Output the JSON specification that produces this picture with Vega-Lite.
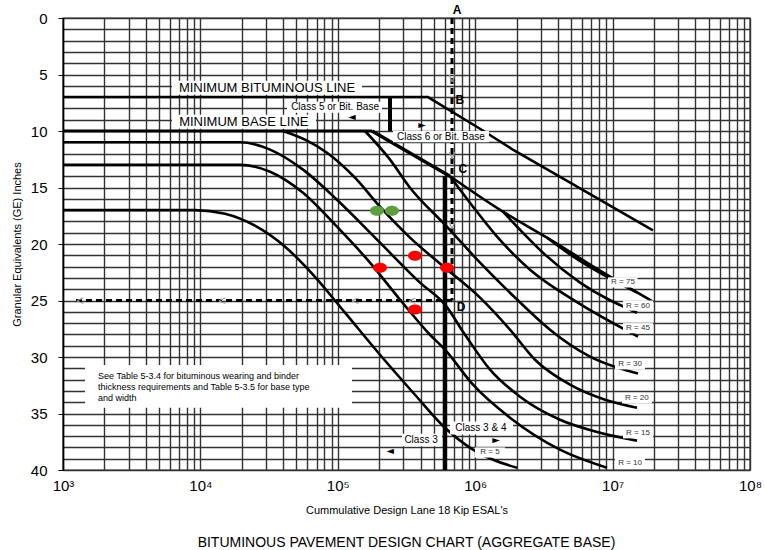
{
  "$schema": "https://vega.github.io/schema/vega-lite/v6.json",
  "width": 687,
  "height": 452,
  "autosize": "none",
  "padding": {"left": 63, "top": 18, "right": 15, "bottom": 80},
  "background": "white",
  "config": {"font": "Liberation Sans", "view": {"stroke": "#333", "strokeWidth": 1.4}},
  "title": {"text": "BITUMINOUS PAVEMENT DESIGN CHART (AGGREGATE BASE)", "orient": "bottom", "fontSize": 14, "fontWeight": "normal", "color": "#000", "offset": 21},
  "datasets": {
    "boxesUnder": [
      {"x": 6209, "x2": 150000, "y": 5.55, "y2": 6.79},
      {"x": 6209, "x2": 69300, "y": 8.56, "y2": 9.8},
      {"x": 1446, "x2": 126800, "y": 30.7, "y2": 34.5}
    ],
    "boxesOver": [
      {"x": 42670, "x2": 209800, "y": 7.41, "y2": 8.38},
      {"x": 252200, "x2": 1259000, "y": 10.0, "y2": 11.0},
      {"x": 655600, "x2": 1884000, "y": 35.7, "y2": 36.85},
      {"x": 293000, "x2": 573000, "y": 36.8, "y2": 37.9},
      {"x": 9250000, "x2": 15200000, "y": 22.95, "y2": 23.85},
      {"x": 11900000, "x2": 19700000, "y": 25.0, "y2": 25.9},
      {"x": 11900000, "x2": 19700000, "y": 27.0, "y2": 27.9},
      {"x": 10400000, "x2": 17200000, "y": 30.2, "y2": 31.1},
      {"x": 11700000, "x2": 19300000, "y": 33.2, "y2": 34.1},
      {"x": 11900000, "x2": 19700000, "y": 36.3, "y2": 37.2},
      {"x": 10400000, "x2": 17200000, "y": 38.9, "y2": 39.8},
      {"x": 997000, "x2": 1650000, "y": 38.0, "y2": 38.9}
    ],
    "straight": [
      {"s": "Minimum bituminous line", "x": 1000, "y": 7},
      {"s": "Minimum bituminous line", "x": 453200, "y": 7},
      {"s": "Minimum bituminous line", "x": 1084000, "y": 9.8},
      {"s": "Minimum bituminous line", "x": 1852000, "y": 11.6},
      {"s": "Minimum bituminous line", "x": 19680000, "y": 18.8},
      {"s": "Minimum base line", "x": 1000, "y": 10},
      {"s": "Minimum base line", "x": 177400, "y": 10},
      {"s": "Base to C", "x": 177400, "y": 10},
      {"s": "Base to C", "x": 655600, "y": 14},
      {"s": "Class 5 / 6 divider", "x": 239900, "y": 7},
      {"s": "Class 5 / 6 divider", "x": 239900, "y": 10},
      {"s": "Class 3 / 4 divider", "x": 602600, "y": 14},
      {"s": "Class 3 / 4 divider", "x": 602600, "y": 40}
    ],
    "curves": [
      {"s": "Upper", "x": 655600, "y": 14},
      {"s": "Upper", "x": 1593000, "y": 17.14},
      {"s": "Upper", "x": 3333000, "y": 19.44},
      {"s": "Upper", "x": 8095000, "y": 22.36},
      {"s": "Upper", "x": 19680000, "y": 25.1},
      {"s": "R = 75", "x": 3333000, "y": 19.44},
      {"s": "R = 75", "x": 5150000, "y": 21.1},
      {"s": "R = 75", "x": 15060000, "y": 24.3},
      {"s": "R = 60", "x": 1593000, "y": 17.14},
      {"s": "R = 60", "x": 2119000, "y": 18.74},
      {"s": "R = 60", "x": 3222000, "y": 20.94},
      {"s": "R = 60", "x": 5796000, "y": 23.42},
      {"s": "R = 60", "x": 15060000, "y": 26.08},
      {"s": "R = 45", "x": 655600, "y": 14},
      {"s": "R = 45", "x": 964000, "y": 16.7},
      {"s": "R = 45", "x": 1442000, "y": 19.35},
      {"s": "R = 45", "x": 2506000, "y": 22.27},
      {"s": "R = 45", "x": 5150000, "y": 24.93},
      {"s": "R = 45", "x": 15310000, "y": 28.2},
      {"s": "R = 30", "x": 157700, "y": 10},
      {"s": "R = 30", "x": 239900, "y": 12.53},
      {"s": "R = 30", "x": 335300, "y": 15.02},
      {"s": "R = 30", "x": 602600, "y": 18.29},
      {"s": "R = 30", "x": 1084000, "y": 21.65},
      {"s": "R = 30", "x": 1948000, "y": 24.74},
      {"s": "R = 30", "x": 3501000, "y": 27.58},
      {"s": "R = 30", "x": 6855000, "y": 29.97},
      {"s": "R = 30", "x": 15310000, "y": 31.47},
      {"s": "R = 20", "x": 39930, "y": 10},
      {"s": "R = 20", "x": 57700, "y": 10.77},
      {"s": "R = 20", "x": 83400, "y": 11.92},
      {"s": "R = 20", "x": 133300, "y": 14.13},
      {"s": "R = 20", "x": 202800, "y": 16.7},
      {"s": "R = 20", "x": 335300, "y": 19.44},
      {"s": "R = 20", "x": 602600, "y": 22.1},
      {"s": "R = 20", "x": 1084000, "y": 24.75},
      {"s": "R = 20", "x": 1791000, "y": 27.58},
      {"s": "R = 20", "x": 2725000, "y": 30.24},
      {"s": "R = 20", "x": 4898000, "y": 32.45},
      {"s": "R = 20", "x": 8810000, "y": 33.78},
      {"s": "R = 20", "x": 15060000, "y": 34.49},
      {"s": "R = 15", "x": 1000, "y": 11},
      {"s": "R = 15", "x": 19410, "y": 11},
      {"s": "R = 15", "x": 32130, "y": 11.65},
      {"s": "R = 15", "x": 55800, "y": 13.42},
      {"s": "R = 15", "x": 98600, "y": 16.08},
      {"s": "R = 15", "x": 202800, "y": 19.88},
      {"s": "R = 15", "x": 396500, "y": 23.42},
      {"s": "R = 15", "x": 602600, "y": 25.37},
      {"s": "R = 15", "x": 843300, "y": 28.03},
      {"s": "R = 15", "x": 1282000, "y": 31.12},
      {"s": "R = 15", "x": 2119000, "y": 33.51},
      {"s": "R = 15", "x": 4142000, "y": 35.55},
      {"s": "R = 15", "x": 8095000, "y": 36.7},
      {"s": "R = 15", "x": 15060000, "y": 37.4},
      {"s": "R = 10", "x": 1000, "y": 13},
      {"s": "R = 10", "x": 19410, "y": 13},
      {"s": "R = 10", "x": 32130, "y": 13.6},
      {"s": "R = 10", "x": 55800, "y": 15.46},
      {"s": "R = 10", "x": 98600, "y": 18.47},
      {"s": "R = 10", "x": 171500, "y": 21.65},
      {"s": "R = 10", "x": 283800, "y": 24.93},
      {"s": "R = 10", "x": 468800, "y": 28.03},
      {"s": "R = 10", "x": 602600, "y": 29.35},
      {"s": "R = 10", "x": 964000, "y": 32.45},
      {"s": "R = 10", "x": 1791000, "y": 35.37},
      {"s": "R = 10", "x": 4142000, "y": 38.2},
      {"s": "R = 10", "x": 9103000, "y": 39.8},
      {"s": "R = 5", "x": 1000, "y": 17},
      {"s": "R = 5", "x": 9141, "y": 17},
      {"s": "R = 5", "x": 15100, "y": 17.32},
      {"s": "R = 5", "x": 24950, "y": 18.38},
      {"s": "R = 5", "x": 41300, "y": 20.24},
      {"s": "R = 5", "x": 68200, "y": 22.9},
      {"s": "R = 5", "x": 112800, "y": 26.08},
      {"s": "R = 5", "x": 202800, "y": 29.8},
      {"s": "R = 5", "x": 364500, "y": 33.34},
      {"s": "R = 5", "x": 602600, "y": 36.26},
      {"s": "R = 5", "x": 964000, "y": 38.2},
      {"s": "R = 5", "x": 2014000, "y": 39.8}
    ],
    "dashed": [
      {"s": "A to D", "x": 677800, "y": 0},
      {"s": "A to D", "x": 677800, "y": 25},
      {"s": "D to axis", "x": 677800, "y": 25},
      {"s": "D to axis", "x": 1222, "y": 25}
    ],
    "points": [
      {"c": "green", "x": 192700, "y": 17.05},
      {"c": "green", "x": 247700, "y": 17.05},
      {"c": "red", "x": 202800, "y": 22.1},
      {"c": "red", "x": 364500, "y": 21.05},
      {"c": "red", "x": 623300, "y": 22.1},
      {"c": "red", "x": 364500, "y": 25.8}
    ],
    "bigLabels": [
      {"t": "MINIMUM  BITUMINOUS  LINE", "x": 30550, "y": 6.17},
      {"t": "MINIMUM  BASE  LINE", "x": 20700, "y": 9.18}
    ],
    "classLabels": [
      {"t": "Class 5 or Bit. Base", "x": 95500, "y": 7.85},
      {"t": "Class 6 or Bit. Base", "x": 563600, "y": 10.5},
      {"t": "Class 3 & 4", "x": 1100000, "y": 36.25},
      {"t": "Class 3", "x": 403700, "y": 37.35}
    ],
    "letters": [
      {"t": "A", "x": 738000, "y": -0.73},
      {"t": "B", "x": 774000, "y": 7.3},
      {"t": "C", "x": 814000, "y": 13.4},
      {"t": "D", "x": 789000, "y": 25.6}
    ],
    "rLabels": [
      {"t": "R = 75", "x": 11900000, "y": 23.4},
      {"t": "R = 60", "x": 15300000, "y": 25.45},
      {"t": "R = 45", "x": 15300000, "y": 27.45},
      {"t": "R = 30", "x": 13400000, "y": 30.65},
      {"t": "R = 20", "x": 15000000, "y": 33.65},
      {"t": "R = 15", "x": 15300000, "y": 36.75},
      {"t": "R = 10", "x": 13400000, "y": 39.35},
      {"t": "R = 5", "x": 1280000, "y": 38.45}
    ],
    "note": [
      {"t": "See Table 5-3.4 for bituminous wearing and binder", "x": 1800, "y": 31.7},
      {"t": "thickness requirements and Table 5-3.5 for base type", "x": 1800, "y": 32.65},
      {"t": "and width", "x": 1800, "y": 33.6}
    ],
    "arrows": [
      {"t": "◄", "x": 126800, "y": 8.74},
      {"t": "►", "x": 410000, "y": 9.44},
      {"t": "►", "x": 1420000, "y": 37.35},
      {"t": "◄", "x": 239900, "y": 38.35}
    ],
    "chevrons": [
      {"t": "<", "x": 1330, "y": 25},
      {"t": "<", "x": 14350, "y": 25},
      {"t": "<", "x": 133300, "y": 25},
      {"t": "<", "x": 346800, "y": 25},
      {"t": "v", "x": 677800, "y": 5.3},
      {"t": "v", "x": 677800, "y": 12.1},
      {"t": "v", "x": 677800, "y": 18.3}
    ]
  },
  "encoding": {
    "x": {
      "field": "x", "type": "quantitative",
      "scale": {"type": "log", "domain": [1000, 100000000], "nice": false},
      "axis": {
        "title": "Cummulative Design Lane 18 Kip ESAL's",
        "values": [1000,2000,3000,4000,5000,6000,7000,8000,9000,10000,20000,30000,40000,50000,60000,70000,80000,90000,100000,200000,300000,400000,500000,600000,700000,800000,900000,1000000,2000000,3000000,4000000,5000000,6000000,7000000,8000000,9000000,10000000,20000000,30000000,40000000,50000000,60000000,70000000,80000000,90000000,100000000],
        "grid": true, "gridColor": "#333", "gridWidth": 1.4, "gridOpacity": 1,
        "ticks": false, "domain": false,
        "labelExpr": "datum.value == 1000 ? '10³' : datum.value == 10000 ? '10⁴' : datum.value == 100000 ? '10⁵' : datum.value == 1000000 ? '10⁶' : datum.value == 10000000 ? '10⁷' : datum.value == 100000000 ? '10⁸' : ''",
        "labelFontSize": 15, "labelColor": "#000", "labelPadding": 8,
        "labelFlush": false, "labelOverlap": false,
        "titleFontSize": 11, "titleFontWeight": "normal", "titleColor": "#000", "titlePadding": 11
      }
    },
    "y": {
      "field": "y", "type": "quantitative",
      "scale": {"domain": [0, 40], "reverse": true, "nice": false, "zero": false},
      "axis": {
        "title": "Granular Equivalents  (GE)  Inches",
        "values": [0,1,2,3,4,5,6,7,8,9,10,11,12,13,14,15,16,17,18,19,20,21,22,23,24,25,26,27,28,29,30,31,32,33,34,35,36,37,38,39,40],
        "grid": true, "gridColor": "#333", "gridWidth": 1.4, "gridOpacity": 1,
        "tickSize": 5, "tickColor": "#000",
        "tickOpacity": {"condition": {"test": "datum.value % 5 === 0", "value": 1}, "value": 0},
        "domain": true, "domainColor": "#000", "domainWidth": 1.5,
        "labelExpr": "datum.value % 5 === 0 ? datum.label : ''",
        "labelFontSize": 15, "labelColor": "#000", "labelPadding": 11, "labelOverlap": false,
        "titleFontSize": 11, "titleFontWeight": "normal", "titleColor": "#000", "titleX": -41
      }
    }
  },
  "layer": [
    {
      "data": {"name": "boxesUnder"},
      "mark": {"type": "rect", "fill": "white"},
      "encoding": {"x2": {"field": "x2"}, "y2": {"field": "y2"}}
    },
    {
      "data": {"name": "straight"},
      "mark": {"type": "line", "color": "#000", "interpolate": "linear", "strokeCap": "butt"},
      "encoding": {
        "detail": {"field": "s"},
        "order": {"value": null},
        "strokeWidth": {"field": "s", "type": "nominal", "legend": null,
          "scale": {"domain": ["Minimum bituminous line", "Minimum base line", "Base to C", "Class 5 / 6 divider", "Class 3 / 4 divider"], "range": [2.5, 4.5, 3.5, 2, 2.2]}}
      }
    },
    {
      "data": {"name": "curves"},
      "mark": {"type": "line", "color": "#000", "interpolate": "monotone", "strokeWidth": 2.6},
      "encoding": {
        "detail": {"field": "s"},
        "order": {"value": null}
      }
    },
    {
      "data": {"name": "dashed"},
      "mark": {"type": "line", "color": "#000", "strokeWidth": 3, "strokeDash": [6, 4]},
      "encoding": {
        "detail": {"field": "s"},
        "order": {"value": null}
      }
    },
    {
      "data": {"name": "boxesOver"},
      "mark": {"type": "rect", "fill": "white"},
      "encoding": {"x2": {"field": "x2"}, "y2": {"field": "y2"}}
    },
    {
      "data": {"name": "chevrons"},
      "mark": {"type": "text", "color": "#999", "fontSize": 13, "align": "center", "baseline": "middle"},
      "encoding": {"text": {"field": "t"}}
    },
    {
      "data": {"name": "points"},
      "mark": {"type": "point", "filled": true, "opacity": 1, "size": 100, "shape": "M -1.4 0 A 1.4 1 0 1 0 1.4 0 A 1.4 1 0 1 0 -1.4 0 Z"},
      "encoding": {
        "color": {"field": "c", "type": "nominal", "legend": null,
          "scale": {"domain": ["green", "red"], "range": ["#5f9e3e", "#ff0000"]}}
      }
    },
    {
      "data": {"name": "bigLabels"},
      "mark": {"type": "text", "color": "#000", "fontSize": 13, "align": "center", "baseline": "middle"},
      "encoding": {"text": {"field": "t"}}
    },
    {
      "data": {"name": "classLabels"},
      "mark": {"type": "text", "color": "#000", "fontSize": 10, "align": "center", "baseline": "middle"},
      "encoding": {"text": {"field": "t"}}
    },
    {
      "data": {"name": "letters"},
      "mark": {"type": "text", "color": "#000", "fontSize": 12, "fontWeight": "bold", "align": "center", "baseline": "middle"},
      "encoding": {"text": {"field": "t"}}
    },
    {
      "data": {"name": "rLabels"},
      "mark": {"type": "text", "color": "#333", "fontSize": 8, "align": "center", "baseline": "middle"},
      "encoding": {"text": {"field": "t"}}
    },
    {
      "data": {"name": "note"},
      "mark": {"type": "text", "color": "#000", "fontSize": 9, "align": "left", "baseline": "middle"},
      "encoding": {"text": {"field": "t"}}
    },
    {
      "data": {"name": "arrows"},
      "mark": {"type": "text", "color": "#000", "font": "DejaVu Sans", "fontSize": 10, "align": "center", "baseline": "middle"},
      "encoding": {"text": {"field": "t"}}
    }
  ]
}
